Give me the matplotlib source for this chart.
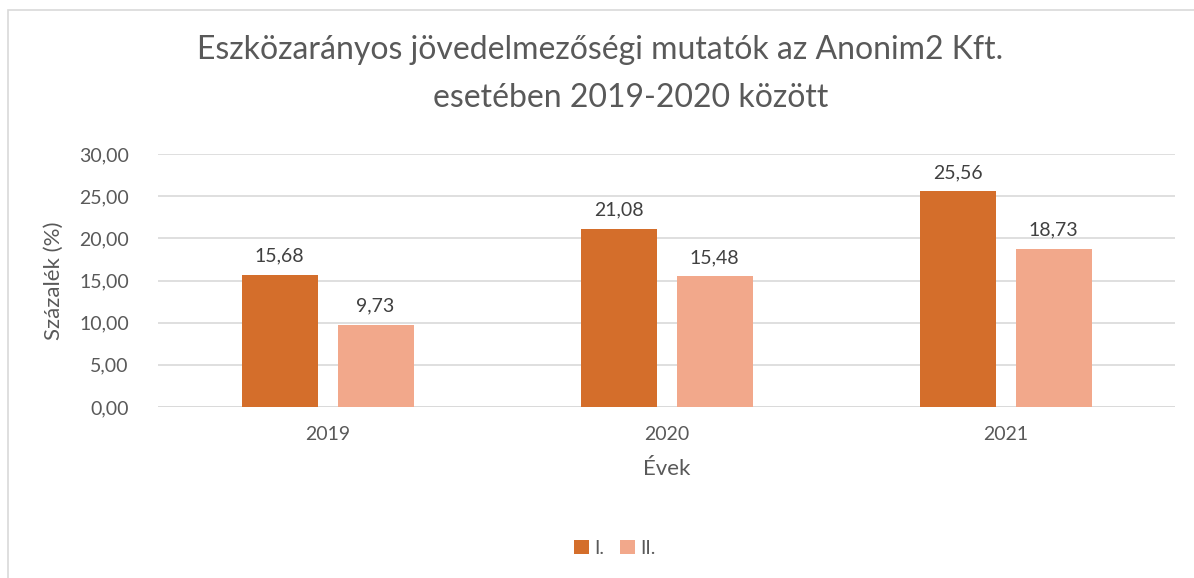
import matplotlib.pyplot as plt
import numpy as np
from matplotlib.patches import Rectangle

plt.rcParams['font.family'] = ['Lato', 'DejaVu Sans']

years = ['2019', '2020', '2021']
series_1 = [15.68, 21.08, 25.56]
series_2 = [9.73, 15.48, 18.73]
labels = ['I.', 'II.']
colors = ['#D46E2B', '#F2A88B']
text_color = '#595959'

W, H = 1194, 578
fig = plt.figure(figsize=(W / 100, H / 100), dpi=100)

# chart border (cropped on right/bottom like the screenshot)
fig.patches.append(Rectangle((8 / W, -0.01), 1.02, 1 - 10 / H + 0.01,
                             transform=fig.transFigure, fill=False,
                             edgecolor='#D9D9D9', linewidth=1.2))

ax = fig.add_axes([158 / W, 1 - 407 / H, (1175 - 158) / W, (407 - 154) / H])

x = np.arange(len(years))
bw = 76 / 339
gap = 20 / 339
b1 = ax.bar(x - (bw + gap) / 2, series_1, bw, color=colors[0], label=labels[0], zorder=3)
b2 = ax.bar(x + (bw + gap) / 2, series_2, bw, color=colors[1], label=labels[1], zorder=3)

for bars in (b1, b2):
    for r in bars:
        ax.annotate(f'{r.get_height():.2f}'.replace('.', ','),
                    (r.get_x() + r.get_width() / 2, r.get_height()),
                    xytext=(0, 7.5), textcoords='offset points',
                    ha='center', va='bottom', fontsize=14, color='#404040')

ax.set_xlim(-0.5, 2.5)
ax.set_ylim(0, 30)
ax.set_yticks(np.arange(0, 31, 5))
ax.set_yticklabels([f'{v:.2f}'.replace('.', ',') for v in np.arange(0, 31, 5)])
ax.set_xticks(x)
ax.set_xticklabels(years)
ax.tick_params(length=0, labelsize=14, labelcolor=text_color)
ax.tick_params(axis='y', pad=21)
ax.tick_params(axis='x', pad=14)
ax.grid(axis='y', color='#D9D9D9', linewidth=1.2, zorder=0)
for s in ax.spines.values():
    s.set_visible(False)
ax.axhline(0, color='#D9D9D9', linewidth=1.2, zorder=2)

ax.set_xlabel('Évek', fontsize=16, color=text_color, labelpad=11)
ax.set_ylabel('Százalék (%)', fontsize=16, color=text_color, labelpad=11)

fig.text(600 / W, 1 - 50 / H, 'Eszközarányos jövedelmezőségi mutatók az Anonim2 Kft.',
         ha='center', va='center', fontsize=23, color=text_color)
fig.text(631 / W, 1 - 98 / H, 'esetében 2019-2020 között',
         ha='center', va='center', fontsize=23, color=text_color)

fig.legend(loc='center', bbox_to_anchor=(615 / W, 1 - 548 / H), ncol=2, frameon=False,
           fontsize=14, labelcolor=text_color, handlelength=0.75, handleheight=0.75,
           handletextpad=0.3, columnspacing=0.8)

fig.savefig('out.png', dpi=100)
